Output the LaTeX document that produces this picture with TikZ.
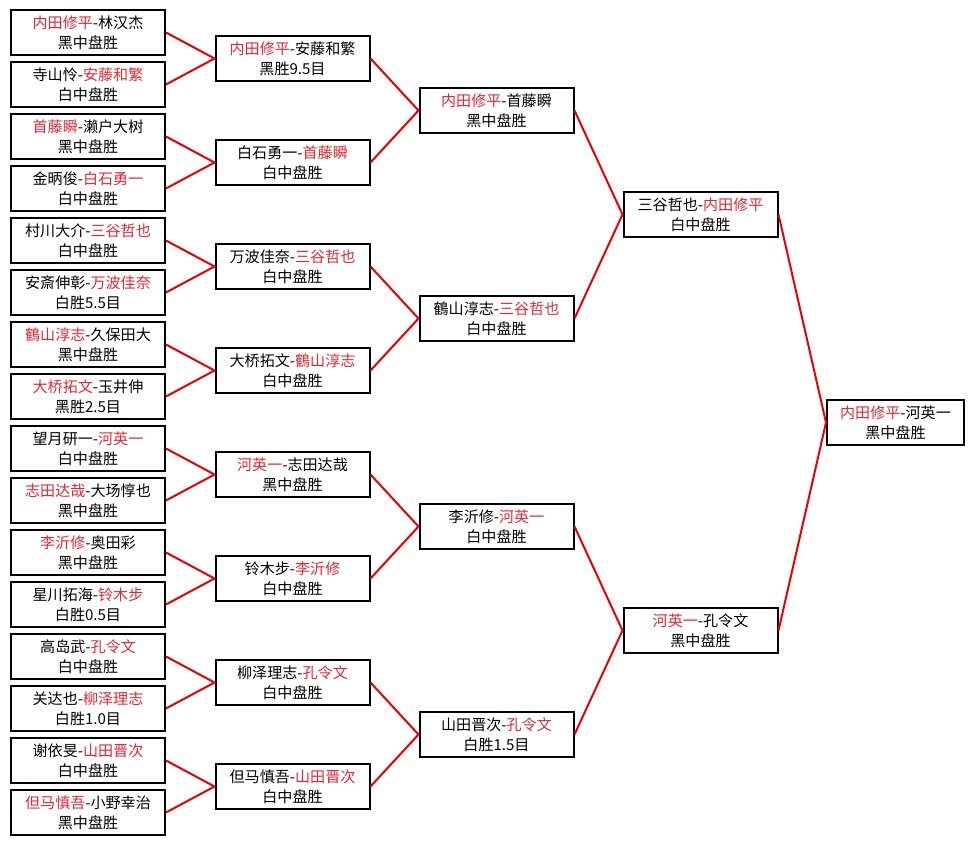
\documentclass[tikz,border=0pt]{standalone}
\usepackage{fontspec}
\setmainfont{Noto Sans CJK SC}
\usetikzlibrary{calc}
\definecolor{winred}{RGB}{228,40,50}
\definecolor{linkred}{RGB}{235,0,0}
\newcommand{\wn}[1]{\textcolor{winred}{#1}}
\tikzset{
  game/.style={draw=black, line width=1.5pt, fill=white, minimum width=115.5pt,
    minimum height=33.75pt, inner sep=0pt, align=center,
    font=\fontsize{11.3pt}{15pt}\selectfont},
  link/.style={draw=linkred, line width=1.5pt}
}

\begin{document}
\begin{tikzpicture}[x=0.75pt,y=-0.75pt]
    \useasboundingbox[fill=white] (0,0) rectangle (974,845);
    % round 1
    \node[game] (a1) at ($0*(0,52)+(88,32.5)$) {\wn{内田修平}-林汉杰\\黑中盘胜};
    \node[game] (a2) at ($1*(0,52)+(88,32.5)$) {寺山怜-\wn{安藤和繁}\\白中盘胜};
    \node[game] (a3) at ($2*(0,52)+(88,32.5)$) {\wn{首藤瞬}-濑户大树\\黑中盘胜};
    \node[game] (a4) at ($3*(0,52)+(88,32.5)$) {金昞俊-\wn{白石勇一}\\白中盘胜};
    \node[game] (a5) at ($4*(0,52)+(88,32.5)$) {村川大介-\wn{三谷哲也}\\白中盘胜};
    \node[game] (a6) at ($5*(0,52)+(88,32.5)$) {安斎伸彰-\wn{万波佳奈}\\白胜5.5目};
    \node[game] (a7) at ($6*(0,52)+(88,32.5)$) {\wn{鶴山淳志}-久保田大\\黑中盘胜};
    \node[game] (a8) at ($7*(0,52)+(88,32.5)$) {\wn{大桥拓文}-玉井伸\\黑胜2.5目};
    \node[game] (a9) at ($8*(0,52)+(88,32.5)$) {望月研一-\wn{河英一}\\白中盘胜};
    \node[game] (a10) at ($9*(0,52)+(88,32.5)$) {\wn{志田达哉}-大场惇也\\黑中盘胜};
    \node[game] (a11) at ($10*(0,52)+(88,32.5)$) {\wn{李沂修}-奥田彩\\黑中盘胜};
    \node[game] (a12) at ($11*(0,52)+(88,32.5)$) {星川拓海-\wn{铃木步}\\白胜0.5目};
    \node[game] (a13) at ($12*(0,52)+(88,32.5)$) {高岛武-\wn{孔令文}\\白中盘胜};
    \node[game] (a14) at ($13*(0,52)+(88,32.5)$) {关达也-\wn{柳泽理志}\\白胜1.0目};
    \node[game] (a15) at ($14*(0,52)+(88,32.5)$) {谢依旻-\wn{山田晋次}\\白中盘胜};
    \node[game] (a16) at ($15*(0,52)+(88,32.5)$) {\wn{但马慎吾}-小野幸治\\黑中盘胜};
    % round 2
    \node[game] (b1) at ($0*(0,104)+(292.5,58.5)$) {\wn{内田修平}-安藤和繁\\黑胜9.5目};
    \node[game] (b2) at ($1*(0,104)+(292.5,58.5)$) {白石勇一-\wn{首藤瞬}\\白中盘胜};
    \node[game] (b3) at ($2*(0,104)+(292.5,58.5)$) {万波佳奈-\wn{三谷哲也}\\白中盘胜};
    \node[game] (b4) at ($3*(0,104)+(292.5,58.5)$) {大桥拓文-\wn{鶴山淳志}\\白中盘胜};
    \node[game] (b5) at ($4*(0,104)+(292.5,58.5)$) {\wn{河英一}-志田达哉\\黑中盘胜};
    \node[game] (b6) at ($5*(0,104)+(292.5,58.5)$) {铃木步-\wn{李沂修}\\白中盘胜};
    \node[game] (b7) at ($6*(0,104)+(292.5,58.5)$) {柳泽理志-\wn{孔令文}\\白中盘胜};
    \node[game] (b8) at ($7*(0,104)+(292.5,58.5)$) {但马慎吾-\wn{山田晋次}\\白中盘胜};
    % round 3
    \node[game] (c1) at ($0*(0,208)+(496.5,110.5)$) {\wn{内田修平}-首藤瞬\\黑中盘胜};
    \node[game] (c2) at ($1*(0,208)+(496.5,110.5)$) {鶴山淳志-\wn{三谷哲也}\\白中盘胜};
    \node[game] (c3) at ($2*(0,208)+(496.5,110.5)$) {李沂修-\wn{河英一}\\白中盘胜};
    \node[game] (c4) at ($3*(0,208)+(496.5,110.5)$) {山田晋次-\wn{孔令文}\\白胜1.5目};
    % semi-finals
    \node[game] (d1) at ($0*(0,416)+(700.5,214.5)$) {三谷哲也-\wn{内田修平}\\白中盘胜};
    \node[game] (d2) at ($1*(0,416)+(700.5,214.5)$) {\wn{河英一}-孔令文\\黑中盘胜};
    % final
    \node[game, minimum width=102.75pt] (e1) at (895.5,422.5) {\wn{内田修平}-河英一\\黑中盘胜};
    % connectors
    \draw[link] (a1.east) -- (b1.west);
    \draw[link] (a2.east) -- (b1.west);
    \draw[link] (a3.east) -- (b2.west);
    \draw[link] (a4.east) -- (b2.west);
    \draw[link] (a5.east) -- (b3.west);
    \draw[link] (a6.east) -- (b3.west);
    \draw[link] (a7.east) -- (b4.west);
    \draw[link] (a8.east) -- (b4.west);
    \draw[link] (a9.east) -- (b5.west);
    \draw[link] (a10.east) -- (b5.west);
    \draw[link] (a11.east) -- (b6.west);
    \draw[link] (a12.east) -- (b6.west);
    \draw[link] (a13.east) -- (b7.west);
    \draw[link] (a14.east) -- (b7.west);
    \draw[link] (a15.east) -- (b8.west);
    \draw[link] (a16.east) -- (b8.west);
    \draw[link] (b1.east) -- (c1.west);
    \draw[link] (b2.east) -- (c1.west);
    \draw[link] (b3.east) -- (c2.west);
    \draw[link] (b4.east) -- (c2.west);
    \draw[link] (b5.east) -- (c3.west);
    \draw[link] (b6.east) -- (c3.west);
    \draw[link] (b7.east) -- (c4.west);
    \draw[link] (b8.east) -- (c4.west);
    \draw[link] (c1.east) -- (d1.west);
    \draw[link] (c2.east) -- (d1.west);
    \draw[link] (c3.east) -- (d2.west);
    \draw[link] (c4.east) -- (d2.west);
    \draw[link] (d1.east) -- (e1.west);
    \draw[link] (d2.east) -- (e1.west);
\end{tikzpicture}
\end{document}
